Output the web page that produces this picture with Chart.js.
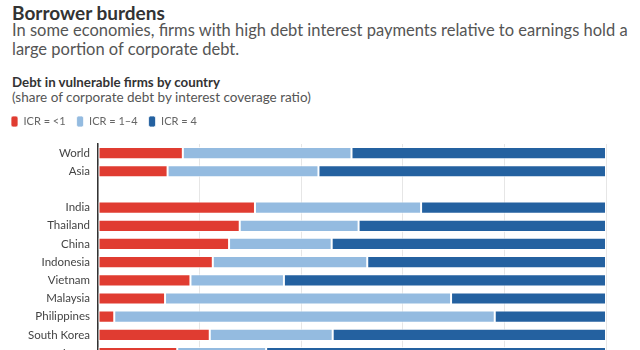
<!DOCTYPE html>
<html>
<head>
<meta charset="utf-8">
<script src="https://cdn.jsdelivr.net/npm/chart.js@4"></script>
<style>
  body { margin: 0; width: 640px; height: 350px; overflow: hidden; background: #fff; font-family: Lato, sans-serif; }
  .txt { position: absolute; left: 12px; white-space: nowrap; }
  #title { top: 1px; font-size: 19px; font-weight: bold; color: #333; }
  #sub { top: 21px; font-size: 16.5px; line-height: 19px; color: #555; }
  #ctitle { top: 74px; font-size: 13.3px; font-weight: bold; color: #333; }
  #csub { top: 89px; font-size: 13.5px; color: #555; }
  #wrap { position: absolute; left: 0; top: 105px; width: 640px; height: 272px; }
</style>
</head>
<body>
<div class="txt" id="title">Borrower burdens</div>
<div class="txt" id="sub">In some economies, firms with high debt interest payments relative to earnings hold a<br>large portion of corporate debt.</div>
<div class="txt" id="ctitle">Debt in vulnerable firms by country</div>
<div class="txt" id="csub">(share of corporate debt by interest coverage ratio)</div>
<div id="wrap"><canvas id="chart"></canvas></div>
<script>
  var countries = ["World", "Asia", "", "India", "Thailand", "China", "Indonesia", "Vietnam",
                   "Malaysia", "Philippines", "South Korea", "Japan"];
  var icrBelow1 = [16.7, 13.7, null, 30.9, 27.9, 25.8, 22.6, 18.2, 13.2, 3.2, 22.0, 15.6];
  var icr1to4   = [33.2, 29.7, null, 32.7, 23.4, 20.2, 30.4, 18.4, 56.3, 74.9, 24.2, 17.5];
  var icr4      = [50.1, 56.6, null, 36.4, 48.7, 54.0, 47.0, 63.4, 30.5, 21.9, 53.8, 66.9];
  var seriesNames = ["ICR = <1", "ICR = 1\u20134", "ICR = 4"];
  var ticksPct = [0, 20, 40, 60, 80, 100];

  // extra space under the legend
  var legendGap = {
    id: "legendGap",
    beforeInit: function(chart) {
      var fit = chart.legend.fit;
      chart.legend.fit = function() {
        fit.call(this);
        this.height += 7;
      };
    }
  };

  function ds(label, data, color) {
    return {
      label: label,
      data: data,
      backgroundColor: color,
      borderColor: "rgba(255,255,255,0.75)",
      borderWidth: 1,
      borderSkipped: false,
      categoryPercentage: 1,
      barPercentage: 0.67
    };
  }

  var ctx = document.getElementById("chart").getContext("2d");
  new Chart(ctx, {
    type: "bar",
    data: {
      labels: countries,
      datasets: [
        ds(seriesNames[0], icrBelow1, "#e03c31"),
        ds(seriesNames[1], icr1to4, "#94bbe0"),
        ds(seriesNames[2], icr4, "#2461a0")
      ]
    },
    plugins: [legendGap],
    options: {
      indexAxis: "y",
      responsive: true,
      maintainAspectRatio: false,
      animation: false,
      layout: { padding: { left: 0, right: 34, top: 0, bottom: 0 } },
      plugins: {
        tooltip: { enabled: false },
        legend: {
          position: "top",
          align: "start",
          labels: {
            boxWidth: 7,
            boxHeight: 11,
            useBorderRadius: true,
            borderRadius: 2,
            padding: 11,
            color: "#666",
            font: { family: "Lato", size: 11 }
          }
        }
      },
      scales: {
        x: {
          stacked: true,
          min: 0,
          max: 100,
          afterBuildTicks: function(s) { s.ticks = ticksPct.map(function(v) { return { value: v }; }); },
          ticks: { display: false },
          grid: { color: "#e6e6e6", drawTicks: false },
          border: { display: false }
        },
        y: {
          stacked: true,
          afterFit: function(s) { s.width = 98; },
          grid: { display: false, drawTicks: false },
          border: { color: "#333", width: 1.5 },
          ticks: { color: "#444", padding: 8, font: { family: "Lato", size: 11.5 } }
        }
      }
    }
  });
</script>
</body>
</html>
